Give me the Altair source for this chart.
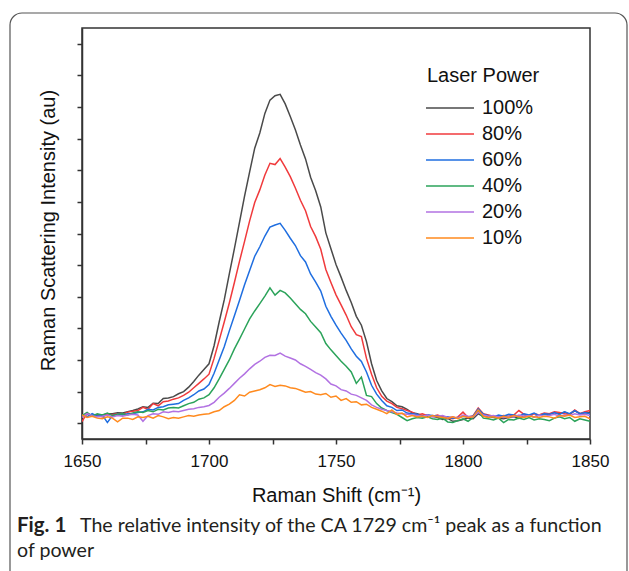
import altair as alt
import pandas as pd

# Raman shift grid (cm^-1)
shift = list(range(1650, 1852, 2))

power_100 = [0.22, 0.28, 0.24, 0.27, 0.25, 0.30, 0.30, 0.33, 0.32, 0.36,
             0.40, 0.45, 0.52, 0.50, 0.63, 0.62, 0.78, 0.80, 0.84, 0.93,
             1.00, 1.14, 1.32, 1.52, 1.70, 1.88, 2.45, 3.20, 3.90, 4.72,
             5.52, 6.35, 7.18, 7.95, 8.70, 9.18, 9.80, 10.22, 10.36, 10.40,
             10.10, 9.70, 9.28, 8.80, 8.36, 7.78, 7.35, 6.84, 6.02, 5.52,
             5.02, 4.62, 4.20, 3.82, 3.38, 3.10, 2.58, 1.88, 1.35, 1.02,
             0.78, 0.68, 0.55, 0.52, 0.44, 0.33, 0.30, 0.24, 0.26, 0.22,
             0.18, 0.12, 0.15, 0.06, 0.08, 0.12, 0.16, 0.14, 0.30, 0.22,
             0.20, 0.18, 0.16, 0.14, 0.18, 0.20, 0.15, 0.22, 0.24, 0.20,
             0.26, 0.30, 0.28, 0.33, 0.30, 0.35, 0.28, 0.40, 0.30, 0.32,
             0.34]

power_80 = [0.05, 0.32, 0.22, 0.26, 0.20, 0.28, 0.27, 0.30, 0.28, 0.35,
            0.38, 0.40, 0.50, 0.44, 0.62, 0.55, 0.68, 0.70, 0.76, 0.80,
            0.88, 0.98, 1.12, 1.26, 1.40, 1.55, 2.05, 2.62, 3.20, 3.80,
            4.45, 5.12, 5.75, 6.40, 6.98, 7.38, 7.85, 8.22, 8.18, 8.37,
            8.10, 7.80, 7.44, 7.05, 6.72, 6.22, 5.90, 5.50, 4.86, 4.45,
            4.06, 3.74, 3.42, 3.05, 2.80, 2.74, 2.05, 1.55, 1.12, 0.85,
            0.70, 0.62, 0.50, 0.46, 0.40, 0.35, 0.26, 0.30, 0.24, 0.22,
            0.26, 0.20, 0.18, 0.14, 0.20, 0.35, 0.18, 0.24, 0.48, 0.30,
            0.26, 0.22, 0.20, 0.24, 0.22, 0.26, 0.40, 0.28, 0.24, 0.30,
            0.26, 0.32, 0.30, 0.36, 0.34, 0.30, 0.28, 0.42, 0.30, 0.36,
            0.40]

power_60 = [0.25, 0.20, 0.30, 0.22, 0.26, 0.02, 0.24, 0.28, 0.26, 0.30,
            0.30, 0.34, 0.36, 0.44, 0.42, 0.50, 0.52, 0.58, 0.60, 0.62,
            0.72, 0.80, 0.90, 1.02, 1.08, 1.22, 1.58, 2.00, 2.42, 2.92,
            3.40, 3.88, 4.38, 4.83, 5.28, 5.58, 5.92, 6.20, 6.27, 6.32,
            6.10, 5.85, 5.62, 5.30, 5.10, 4.72, 4.46, 4.18, 3.70, 3.38,
            3.10, 2.85, 2.62, 2.35, 2.12, 1.95, 1.62, 1.20, 0.92, 0.72,
            0.55, 0.50, 0.40, 0.42, 0.32, 0.30, 0.28, 0.20, 0.26, 0.24,
            0.22, 0.18, 0.20, 0.16, 0.18, 0.22, 0.20, 0.22, 0.45, 0.28,
            0.24, 0.20, 0.26, 0.22, 0.28, 0.26, 0.22, 0.30, 0.26, 0.32,
            0.24, 0.30, 0.28, 0.34, 0.28, 0.36, 0.30, 0.40, 0.30, 0.34,
            0.30]

power_40 = [0.24, 0.34, 0.22, 0.30, 0.26, 0.32, 0.24, 0.28, 0.30, 0.26,
            0.32, 0.36, 0.34, 0.40, 0.36, 0.44, 0.42, 0.48, 0.50, 0.48,
            0.55, 0.62, 0.66, 0.76, 0.80, 0.90, 1.12, 1.40, 1.70, 2.00,
            2.35, 2.66, 2.98, 3.30, 3.55, 3.78, 4.02, 4.28, 4.05, 4.20,
            4.12, 3.96, 3.78, 3.60, 3.46, 3.22, 3.04, 2.86, 2.52, 2.32,
            2.14, 1.96, 1.80, 1.62, 1.26, 1.46, 0.88, 0.84, 0.62, 0.48,
            0.40, 0.34, 0.28, 0.18, 0.08, 0.14, 0.18, 0.16, 0.20, 0.14,
            0.12, 0.16, 0.04, 0.02, 0.08, 0.14, 0.06, 0.18, 0.38, 0.16,
            0.14, 0.10, 0.16, 0.02, 0.12, 0.10, 0.16, 0.12, 0.18, 0.10,
            0.14, 0.12, 0.08, 0.16, 0.20, 0.14, 0.18, 0.06, 0.14, 0.10,
            0.06]

power_20 = [0.18, 0.30, 0.24, 0.20, 0.22, 0.26, 0.20, 0.24, 0.22, 0.26,
            0.28, 0.26, 0.06, 0.24, 0.30, 0.28, 0.36, 0.34, 0.38, 0.36,
            0.40, 0.44, 0.46, 0.50, 0.52, 0.56, 0.66, 0.82, 0.95, 1.10,
            1.26, 1.42, 1.56, 1.72, 1.86, 1.96, 2.08, 2.15, 2.14, 2.22,
            2.12, 2.06, 2.00, 1.88, 1.80, 1.70, 1.60, 1.52, 1.40, 1.24,
            1.18, 1.06, 1.02, 0.92, 0.88, 0.80, 0.72, 0.58, 0.50, 0.44,
            0.40, 0.36, 0.32, 0.30, 0.28, 0.26, 0.24, 0.22, 0.26, 0.20,
            0.22, 0.24, 0.18, 0.20, 0.16, 0.26, 0.22, 0.20, 0.34, 0.26,
            0.22, 0.24, 0.20, 0.18, 0.22, 0.20, 0.26, 0.22, 0.24, 0.20,
            0.26, 0.22, 0.24, 0.28, 0.22, 0.26, 0.24, 0.30, 0.26, 0.28,
            0.24]

power_10 = [0.26, 0.18, 0.22, 0.16, 0.14, 0.20, 0.16, 0.04, 0.16, 0.16,
            0.12, 0.20, 0.18, 0.22, 0.16, 0.24, 0.20, 0.14, 0.18, 0.16,
            0.20, 0.24, 0.22, 0.26, 0.28, 0.30, 0.36, 0.40, 0.52, 0.60,
            0.72, 0.90, 0.86, 0.98, 1.02, 1.06, 1.12, 1.22, 1.16, 1.20,
            1.18, 1.12, 1.10, 1.04, 0.98, 1.00, 0.92, 0.90, 0.94, 0.82,
            0.86, 0.72, 0.78, 0.66, 0.68, 0.58, 0.60, 0.50, 0.44, 0.38,
            0.30, 0.42, 0.28, 0.32, 0.20, 0.24, 0.20, 0.22, 0.18, 0.24,
            0.20, 0.18, 0.16, 0.20, 0.14, 0.22, 0.18, 0.20, 0.42, 0.22,
            0.18, 0.20, 0.16, 0.22, 0.18, 0.24, 0.20, 0.18, 0.22, 0.20,
            0.18, 0.22, 0.20, 0.16, 0.24, 0.22, 0.26, 0.18, 0.20, 0.22,
            0.14]

series_names = ["100%", "80%", "60%", "40%", "20%", "10%"]
series_values = [power_100, power_80, power_60, power_40, power_20, power_10]
series_colors = ["#4a4a4a", "#f03a3c", "#1f6ee0", "#2ba35a", "#b272e2", "#ff8a1e"]

x_ticks = [1650, 1675, 1700, 1725, 1750, 1775, 1800, 1825, 1850]
y_ticks = [0, 1, 2, 3, 4, 5, 6, 7, 8, 9, 10, 11, 12]

caption_bold = ["Fig. 1"]
caption_line1 = ["The relative intensity of the CA 1729 cm\u207b\u00b9 peak as a function"]
caption_line2 = ["of power"]

rows = []
for name, vals in zip(series_names, series_values):
    for xv, yv in zip(shift, vals):
        rows.append({"shift": xv, "intensity": yv, "power": name})
df = pd.DataFrame(rows)

FONT = "Liberation Sans"
CAP_FONT = "Lato"

lines = alt.Chart(df).mark_line(strokeWidth=1.5, clip=True).encode(
    x=alt.X("shift:Q",
            scale=alt.Scale(domain=[1650, 1850], nice=False, zero=False),
            axis=alt.Axis(values=x_ticks, format="d",
                          labelExpr="datum.value % 50 == 0 ? datum.label : ''",
                          title="Raman Shift (cm\u207b\u00b9)", grid=False,
                          tickSize=5, tickWidth=1.5, tickColor="#333",
                          domainColor="#333", domainWidth=1.5,
                          labelFont=FONT, labelFontSize=17, labelColor="#111",
                          labelPadding=9, labelFlush=False,
                          titleFont=FONT, titleFontSize=20, titleFontWeight="normal",
                          titleColor="#111", titleBaseline="alphabetic",
                          titleX=254, titleY=62, titleAlign="center")),
    y=alt.Y("intensity:Q",
            scale=alt.Scale(domain=[-0.5, 12.5], nice=False, zero=False),
            axis=alt.Axis(values=y_ticks, labels=False, grid=False,
                          title="Raman Scattering Intensity (au)",
                          tickSize=5, tickWidth=1.5, tickColor="#333",
                          domainColor="#333", domainWidth=1.5,
                          titleFont=FONT, titleFontSize=20, titleFontWeight="normal",
                          titleColor="#111", titleAngle=-90,
                          titleBaseline="alphabetic", titleAlign="center",
                          titleX=-28, titleY=202)),
    color=alt.Color("power:N",
                    scale=alt.Scale(domain=series_names, range=series_colors),
                    sort=series_names,
                    legend=alt.Legend(title="Laser Power", orient="none",
                                      legendX=345, legendY=38,
                                      symbolType="M-1.833,0H6.167", symbolSize=144,
                                      symbolStrokeWidth=1.6,
                                      titleFont=FONT, titleFontSize=20,
                                      titleFontWeight="normal", titleColor="#111",
                                      labelFont=FONT, labelFontSize=20,
                                      labelColor="#111", labelOffset=35,
                                      rowPadding=6, titlePadding=12, padding=0)),
)

border = alt.Chart(pd.DataFrame({"k": [0]})).mark_rect(
    fill="white", fillOpacity=0, stroke="#555", strokeWidth=1.2, cornerRadius=12
).encode(x=alt.value(-72), x2=alt.value(545), y=alt.value(-15), y2=alt.value(565))

cap_b = alt.Chart(pd.DataFrame({"t": caption_bold})).mark_text(
    font=CAP_FONT, fontSize=20.5, fontWeight="bold", color="#231f20",
    align="left", baseline="alphabetic"
).encode(text="t:N", x=alt.value(-65), y=alt.value(504))

cap_1 = alt.Chart(pd.DataFrame({"t": caption_line1})).mark_text(
    font=CAP_FONT, fontSize=19.6, color="#231f20", align="left", baseline="alphabetic"
).encode(text="t:N", x=alt.value(-2), y=alt.value(504))

cap_2 = alt.Chart(pd.DataFrame({"t": caption_line2})).mark_text(
    font=CAP_FONT, fontSize=19.6, color="#231f20", align="left", baseline="alphabetic"
).encode(text="t:N", x=alt.value(-65), y=alt.value(529))

chart = alt.layer(border, lines, cap_b, cap_1, cap_2).properties(
    width=508, height=411,
    autosize=alt.AutoSizeParams(type="none"),
    padding={"left": 82, "top": 28, "right": 39, "bottom": 132},
    background="white",
).configure_view(stroke="#333", strokeWidth=1.5)

chart.save("out.html", embed_options={"renderer": "svg", "actions": False})
